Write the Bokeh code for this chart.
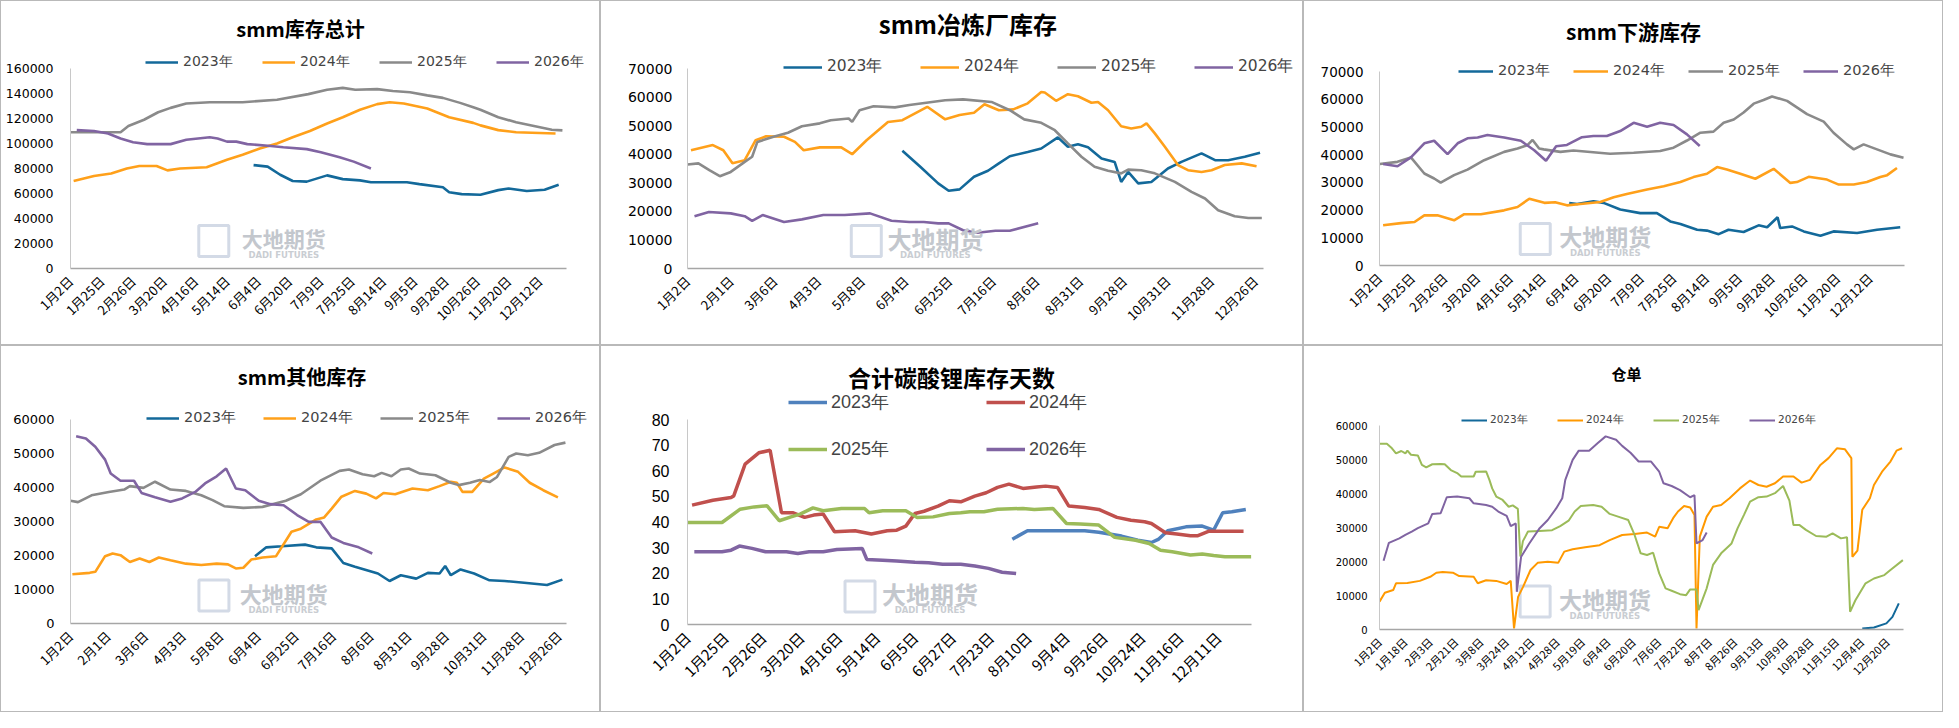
import math
from bokeh.plotting import figure
from bokeh.layouts import row, column
from bokeh.models import Range1d, FixedTicker, Legend, LegendItem, Label, NumeralTickFormatter
from bokeh.embed import file_html
from bokeh.resources import INLINE

YEARS = ["2023年", "2024年", "2025年", "2026年"]

# ---- smm库存总计 ----
TOTAL_LABELS = ["1月2日", "1月25日", "2月26日", "3月20日", "4月16日", "5月14日", "6月4日", "6月20日",
                "7月9日", "7月25日", "8月14日", "9月5日", "9月28日", "10月26日", "11月20日", "12月12日"]
TOTAL_2023_X = [5.85, 6.3, 6.7, 7.1, 7.55, 8.2, 8.7, 9.25, 9.6, 10.75, 11.15, 11.9, 12.1, 12.5, 13.1, 13.67, 14.0, 14.58, 15.15, 15.6]
TOTAL_2023_Y = [82700, 81500, 75000, 70000, 69500, 74500, 71500, 70500, 69000, 69000, 67500, 65000, 61000, 59500, 59000, 62700, 64000, 62000, 63000, 67000]
TOTAL_2024_X = [0.1, 0.75, 1.3, 1.8, 2.2, 2.75, 3.1, 3.5, 4.35, 5.0, 5.5, 6.05, 6.6, 7.1, 7.65, 8.2, 8.7, 9.25, 9.8, 10.2, 10.65, 11.4, 11.7, 12.1, 12.87, 13.1, 13.67, 14.24, 15.5]
TOTAL_2024_Y = [70000, 74000, 76000, 80000, 82000, 82000, 78500, 80000, 81000, 87000, 91000, 96000, 100000, 105000, 110000, 116000, 121000, 127000, 131500, 133000, 132000, 128000, 125000, 121000, 116500, 114500, 110700, 109000, 108000]
TOTAL_2025_X = [0, 1.6, 1.75, 1.85, 2.35, 2.8, 3.2, 3.7, 4.45, 5.5, 6.6, 7.6, 8.2, 8.7, 9.1, 9.8, 10.3, 10.85, 11.4, 11.9, 12.45, 12.87, 13.1, 13.67, 14.24, 14.81, 15.38, 15.72]
TOTAL_2025_Y = [109000, 109000, 112000, 114000, 119000, 125000, 128500, 132000, 133000, 133000, 135000, 139500, 143000, 144500, 143000, 143500, 142000, 141000, 138500, 136500, 132500, 129000, 127000, 121000, 117000, 114000, 111000, 110500]
TOTAL_2026_X = [0.2, 0.75, 1.2, 1.6, 2.0, 2.45, 3.2, 3.7, 4.45, 4.7, 5.0, 5.3, 5.65, 6.4, 6.8, 7.55, 8.0, 8.6, 9.05, 9.6]
TOTAL_2026_Y = [110700, 110000, 108000, 104000, 101000, 99500, 99500, 103000, 105000, 104000, 101500, 101500, 99500, 98000, 97000, 95500, 93000, 89000, 85500, 80000]

# ---- smm冶炼厂库存 ----
SMELTER_LABELS = ["1月2日", "2月1日", "3月6日", "4月3日", "5月8日", "6月4日", "6月25日", "7月16日",
                  "8月6日", "8月31日", "9月28日", "10月31日", "11月28日", "12月26日"]
SMELTER_2023_X = [4.92, 5.33, 5.74, 5.98, 6.23, 6.56, 6.88, 7.13, 7.38, 7.79, 8.1, 8.48, 8.71, 8.94, 9.17, 9.48, 9.63, 9.78, 9.93, 10.09, 10.32, 10.62, 11.0, 11.31, 11.77, 12.08, 12.38, 12.76, 13.11]
SMELTER_2023_Y = [41200, 35600, 29800, 27200, 27700, 32100, 34200, 36800, 39300, 40800, 42000, 45900, 42600, 43500, 42400, 38500, 37900, 37300, 30300, 33800, 29800, 30300, 35000, 37300, 40300, 37900, 37900, 39100, 40500]
SMELTER_2024_X = [0.08, 0.58, 0.82, 1.03, 1.31, 1.56, 1.8, 2.21, 2.46, 2.66, 3.03, 3.52, 3.77, 4.1, 4.59, 4.92, 5.49, 5.9, 6.23, 6.56, 6.8, 7.13, 7.46, 7.79, 8.1, 8.18, 8.44, 8.71, 8.94, 9.25, 9.4, 9.63, 9.93, 10.16, 10.39, 10.51, 10.7, 10.93, 11.23, 11.46, 11.77, 12.0, 12.3, 12.69, 13.03]
SMELTER_2024_Y = [41400, 43200, 41400, 36800, 37900, 44900, 46300, 46100, 44300, 41400, 42400, 42400, 40000, 44900, 51300, 51900, 56600, 52200, 53700, 54500, 57500, 55400, 55700, 57800, 61800, 61600, 58700, 61000, 60300, 58000, 58300, 55400, 49800, 49000, 49600, 50800, 47300, 42600, 36200, 34400, 33800, 34400, 36200, 36800, 35800]
SMELTER_2025_X = [0.0, 0.25, 0.5, 0.74, 0.99, 1.31, 1.48, 1.6, 1.97, 2.3, 2.62, 3.03, 3.28, 3.69, 3.77, 3.94, 4.26, 4.75, 5.08, 5.9, 6.31, 6.96, 7.38, 7.71, 8.1, 8.41, 8.71, 9.02, 9.32, 9.63, 9.93, 10.09, 10.39, 10.7, 11.16, 11.54, 11.85, 12.15, 12.53, 12.84, 13.15]
SMELTER_2025_Y = [36400, 36800, 34400, 32300, 33800, 37300, 39100, 44300, 46100, 47500, 49800, 50800, 51900, 52500, 51300, 55400, 56800, 56400, 57200, 58900, 59200, 58300, 55400, 52200, 51000, 48400, 43800, 39100, 35600, 34200, 33300, 34600, 34400, 33300, 30300, 26800, 24500, 20400, 18300, 17700, 17700]
SMELTER_2026_X = [0.16, 0.49, 0.99, 1.31, 1.48, 1.72, 2.21, 2.62, 3.11, 3.6, 4.18, 4.67, 5.08, 5.41, 5.74, 5.98, 6.31, 6.64, 7.05, 7.38, 8.03]
SMELTER_2026_Y = [18300, 19800, 19300, 18300, 16700, 18700, 16300, 17200, 18700, 18700, 19300, 16700, 16300, 16300, 15800, 15800, 13400, 12500, 13200, 13200, 15800]

# ---- smm下游库存 ----
DOWN_LABELS = TOTAL_LABELS
DOWN_2023_X = [5.8, 6.04, 6.54, 6.85, 7.36, 7.97, 8.48, 8.89, 9.2, 9.71, 10.01, 10.37, 10.67, 11.13, 11.59, 11.85, 12.17, 12.25, 12.61, 12.97, 13.48, 13.88, 14.6, 15.21, 15.92]
DOWN_2023_Y = [22500, 22200, 23200, 22600, 20200, 18900, 18900, 15900, 15000, 12900, 12600, 11300, 12900, 12100, 14500, 13800, 17400, 13500, 14100, 12300, 10700, 12300, 11700, 12900, 13800]
DOWN_2024_X = [0.11, 0.66, 1.07, 1.37, 1.77, 2.28, 2.59, 3.1, 3.81, 4.22, 4.58, 5.04, 5.37, 5.73, 6.14, 6.75, 7.16, 7.56, 8.18, 8.69, 9.2, 9.6, 10.01, 10.32, 10.62, 11.03, 11.49, 12.05, 12.56, 12.76, 13.12, 13.68, 14.04, 14.5, 14.9, 15.31, 15.52, 15.82]
DOWN_2024_Y = [14500, 15300, 15700, 18100, 18100, 16300, 18500, 18500, 19900, 21100, 24100, 22600, 22800, 21700, 22200, 22900, 24600, 25800, 27400, 28600, 30100, 31900, 33100, 35500, 34600, 33100, 31300, 34900, 29800, 30100, 32000, 31000, 29200, 29200, 30100, 31900, 32600, 35200]
DOWN_2025_X = [0.01, 0.55, 0.96, 1.37, 1.67, 1.87, 2.28, 2.69, 3.2, 3.81, 4.22, 4.53, 4.68, 4.88, 5.02, 5.53, 5.93, 7.05, 7.77, 8.58, 8.99, 9.4, 9.81, 10.21, 10.52, 10.83, 11.13, 11.44, 11.74, 12.0, 12.46, 13.07, 13.58, 13.88, 14.29, 14.5, 14.8, 15.21, 15.62, 16.02]
DOWN_2025_Y = [36600, 37400, 39000, 33200, 31400, 29900, 32600, 34600, 38000, 41000, 42200, 43500, 45300, 42200, 41900, 41000, 41500, 40300, 40700, 41300, 42500, 45100, 47900, 48300, 51500, 52700, 55200, 58400, 59700, 61000, 59400, 54600, 51900, 47900, 43700, 41900, 43700, 41900, 40100, 38900]
DOWN_2026_X = [0.11, 0.55, 0.96, 1.37, 1.67, 2.08, 2.39, 2.69, 3.0, 3.3, 3.81, 4.32, 4.73, 5.09, 5.4, 5.73, 6.19, 6.54, 6.95, 7.36, 7.77, 8.18, 8.58, 8.99, 9.4, 9.79]
DOWN_2026_Y = [36600, 35800, 39000, 44100, 45000, 40200, 44100, 45900, 46200, 47100, 46200, 45000, 41600, 37800, 43000, 43500, 46300, 46700, 46700, 48500, 51500, 50100, 51500, 50700, 47300, 43100]

# ---- smm其他库存 ----
OTHER_LABELS = SMELTER_LABELS
OTHER_2023_X = [4.91, 5.21, 5.62, 6.24, 6.54, 6.95, 7.26, 7.57, 8.18, 8.49, 8.79, 9.2, 9.51, 9.82, 9.97, 10.12, 10.38, 10.74, 11.15, 11.55, 12.07, 12.68, 13.09]
OTHER_2023_Y = [19800, 22400, 22700, 23200, 22400, 22100, 17800, 16700, 14700, 12500, 14200, 13200, 14900, 14700, 16900, 14200, 15900, 14700, 12700, 12500, 12000, 11300, 12900]
OTHER_2024_X = [0.05, 0.51, 0.66, 0.92, 1.12, 1.33, 1.58, 1.84, 2.1, 2.35, 2.66, 3.07, 3.48, 3.89, 4.19, 4.4, 4.6, 4.81, 5.11, 5.47, 5.88, 6.13, 6.54, 6.75, 6.95, 7.21, 7.57, 7.87, 8.13, 8.33, 8.64, 9.1, 9.51, 9.82, 10.12, 10.28, 10.43, 10.69, 11.0, 11.25, 11.55, 11.91, 12.22, 12.58, 12.97]
OTHER_2024_Y = [14500, 14900, 15200, 19800, 20600, 20100, 18100, 19100, 18100, 19400, 18600, 17600, 17200, 17600, 17400, 16200, 16400, 18800, 19400, 19800, 27000, 27900, 30600, 31200, 33800, 37300, 39000, 38200, 36800, 38400, 38000, 39700, 39200, 40400, 41700, 41400, 38700, 38700, 42600, 44100, 45900, 44600, 41400, 39200, 37100]
OTHER_2025_X = [0, 0.2, 0.56, 1.02, 1.43, 1.58, 1.94, 2.25, 2.66, 3.07, 3.48, 3.78, 4.09, 4.6, 5.11, 5.73, 6.13, 6.65, 7.16, 7.41, 7.77, 8.08, 8.28, 8.54, 8.79, 9.0, 9.3, 9.71, 10.12, 10.33, 10.63, 10.89, 11.15, 11.35, 11.66, 11.86, 12.17, 12.47, 12.88, 13.17]
OTHER_2025_Y = [36100, 35700, 37700, 38700, 39400, 40400, 39900, 41700, 39400, 39000, 37700, 36300, 34500, 34000, 34300, 36100, 38000, 42000, 44900, 45300, 43900, 43300, 44300, 43300, 45300, 45600, 44100, 43600, 41400, 40700, 41400, 42200, 41600, 43100, 49000, 50000, 49500, 50200, 52500, 53200]
OTHER_2026_X = [0.15, 0.41, 0.66, 0.92, 1.07, 1.33, 1.69, 1.89, 2.25, 2.66, 2.97, 3.32, 3.58, 3.89, 4.14, 4.4, 4.65, 5.01, 5.32, 5.67, 6.03, 6.34, 6.65, 6.95, 7.26, 7.67, 8.03]
OTHER_2026_Y = [55100, 54400, 52000, 48200, 44100, 42000, 42000, 38400, 37100, 35800, 36800, 38700, 41200, 43300, 45600, 39700, 39200, 36100, 35100, 34800, 31900, 29900, 29900, 25300, 23700, 22400, 20600]

# ---- 合计碳酸锂库存天数 ----
DAYS_LABELS = ["1月2日", "1月25日", "2月26日", "3月20日", "4月16日", "5月14日", "6月5日", "6月27日",
               "7月23日", "8月10日", "9月4日", "9月26日", "10月24日", "11月16日", "12月11日"]
DAYS_2023_X = [8.57, 8.97, 9.64, 10.48, 10.85, 11.45, 11.88, 12.24, 12.42, 12.67, 13.15, 13.58, 13.88, 14.12, 14.36, 14.73]
DAYS_2023_Y = [33.3, 36.6, 36.6, 36.6, 36.0, 34.5, 32.9, 32.0, 33.2, 36.6, 38.1, 38.4, 36.8, 43.6, 44.0, 44.9]
DAYS_2024_X = [0.12, 0.67, 1.15, 1.22, 1.52, 1.88, 2.18, 2.48, 2.79, 3.09, 3.33, 3.58, 3.88, 4.42, 4.85, 5.27, 5.52, 5.76, 6.0, 6.24, 6.61, 6.91, 7.21, 7.58, 7.88, 8.18, 8.48, 8.85, 9.21, 9.45, 9.76, 10.06, 10.48, 10.85, 11.33, 11.7, 12.06, 12.24, 12.61, 12.91, 13.27, 13.45, 13.76, 14.67]
DAYS_2024_Y = [46.6, 48.5, 49.6, 50.2, 62.6, 67.0, 68.0, 43.6, 43.6, 41.8, 42.7, 43.1, 36.2, 36.6, 35.3, 36.6, 36.8, 38.4, 43.3, 44.2, 46.2, 48.3, 47.9, 50.1, 51.4, 53.5, 54.8, 53.1, 53.7, 54.0, 53.5, 46.2, 45.7, 44.9, 41.8, 40.7, 40.1, 39.4, 35.8, 35.3, 34.6, 34.6, 36.4, 36.4]
DAYS_2025_X = [0, 0.91, 1.39, 1.76, 2.1, 2.42, 2.73, 2.97, 3.31, 3.58, 4.06, 4.67, 4.79, 5.15, 5.76, 6.06, 6.48, 6.91, 7.21, 7.45, 7.82, 8.18, 8.85, 9.15, 9.64, 10.0, 10.36, 10.85, 11.27, 11.82, 12.18, 12.48, 12.79, 13.27, 13.58, 13.88, 14.18, 14.87]
DAYS_2025_Y = [39.8, 39.8, 45.0, 45.9, 46.3, 40.5, 42.0, 43.1, 45.5, 44.4, 45.3, 45.3, 43.6, 44.4, 44.4, 41.8, 42.0, 43.3, 43.6, 44.0, 44.0, 45.0, 45.3, 44.9, 45.3, 39.4, 39.2, 38.8, 34.0, 32.9, 31.6, 29.0, 28.4, 27.1, 27.5, 26.9, 26.4, 26.4]
DAYS_2026_X = [0.18, 0.91, 1.15, 1.37, 1.7, 2.06, 2.61, 2.91, 3.21, 3.58, 3.94, 4.61, 4.73, 5.15, 5.52, 6.0, 6.36, 6.73, 7.21, 7.58, 7.94, 8.3, 8.67]
DAYS_2026_Y = [28.4, 28.4, 29.0, 30.6, 29.7, 28.4, 28.4, 27.7, 28.4, 28.4, 29.3, 29.7, 25.4, 25.1, 24.8, 24.3, 24.1, 23.5, 23.5, 22.8, 21.9, 20.4, 19.9]

# ---- 仓单 ----
WR_LABELS = ["1月2日", "1月18日", "2月3日", "2月21日", "3月8日", "3月24日", "4月12日", "4月28日", "5月19日",
             "6月4日", "6月20日", "7月6日", "7月22日", "8月7日", "8月26日", "9月13日", "10月9日", "10月28日",
             "11月15日", "12月4日", "12月20日"]
WR_2023_X = [19.02, 19.48, 19.97, 20.21, 20.46]
WR_2023_Y = [300, 600, 1800, 3700, 7700]
WR_2024_X = [0, 0.21, 0.54, 0.65, 1.1, 1.59, 2.0, 2.24, 2.49, 2.89, 3.14, 3.71, 3.87, 4.2, 4.6, 5.01, 5.17, 5.3, 5.46, 5.66, 5.95, 6.23, 6.63, 7.04, 7.28, 7.61, 8.1, 8.67, 9.07, 9.56, 10.05, 10.54, 10.86, 11.02, 11.35, 11.59, 11.76, 12.0, 12.24, 12.41, 12.49, 12.62, 12.89, 13.14, 13.46, 13.79, 14.2, 14.6, 14.93, 15.25, 15.58, 15.9, 16.31, 16.63, 16.96, 17.37, 17.69, 18.02, 18.34, 18.59, 18.63, 18.83, 19.02, 19.32, 19.48, 19.8, 20.13, 20.37, 20.59]
WR_2024_Y = [8200, 10800, 11600, 13600, 13700, 14300, 15500, 16700, 16900, 16700, 15700, 15500, 13600, 14500, 14300, 13400, 14300, 300, 9600, 12600, 17500, 19600, 19900, 19600, 22900, 23600, 24200, 24800, 26300, 27800, 28100, 28500, 27300, 30200, 29800, 33000, 34700, 36300, 35900, 33700, 300, 27300, 33200, 36100, 36600, 38600, 41500, 43800, 42500, 42000, 43000, 45000, 45000, 43200, 44000, 48400, 50400, 53300, 53000, 50400, 21400, 23200, 35200, 38600, 42500, 46400, 49400, 52600, 53300]
WR_2025_X = [0, 0.29, 0.49, 0.65, 0.86, 1.02, 1.1, 1.24, 1.51, 1.67, 1.84, 2.08, 2.41, 2.57, 2.81, 3.06, 3.22, 3.71, 3.79, 4.2, 4.33, 4.44, 4.6, 4.85, 5.09, 5.25, 5.45, 5.55, 5.65, 5.85, 6.3, 6.8, 7.12, 7.45, 7.69, 7.93, 8.42, 8.75, 9.07, 9.4, 9.8, 10.05, 10.29, 10.54, 10.78, 11.02, 11.27, 11.51, 11.84, 12.08, 12.24, 12.49, 12.57, 12.89, 13.14, 13.46, 13.63, 13.87, 14.11, 14.36, 14.6, 14.93, 15.25, 15.58, 15.9, 16.15, 16.31, 16.55, 16.8, 17.2, 17.61, 17.85, 18.18, 18.42, 18.54, 18.75, 19.15, 19.48, 19.89, 20.13, 20.62]
WR_2025_Y = [54600, 54600, 53300, 51800, 52500, 51800, 52600, 51400, 51200, 48400, 47700, 48600, 48700, 48600, 46900, 46000, 45000, 45000, 46400, 46500, 44000, 41500, 39100, 38100, 36100, 36500, 35500, 21500, 26000, 28800, 29000, 29200, 30400, 32000, 34700, 36300, 36600, 36100, 34000, 33200, 32200, 27800, 22400, 21900, 22600, 16500, 12100, 11400, 10400, 10100, 11800, 11800, 5700, 12100, 19000, 22400, 23600, 25300, 29800, 33700, 37600, 38900, 39100, 40100, 42200, 37900, 30700, 30700, 29300, 27500, 27300, 28300, 26800, 27100, 5200, 8600, 13600, 15000, 16000, 17500, 20400]
WR_2026_X = [0.16, 0.37, 0.78, 1.02, 1.27, 1.51, 1.92, 2.08, 2.41, 2.65, 3.06, 3.54, 3.71, 4.2, 4.44, 4.68, 5.01, 5.17, 5.37, 5.41, 5.58, 5.9, 6.31, 6.63, 6.96, 7.2, 7.32, 7.61, 7.85, 8.26, 8.59, 8.91, 9.32, 9.56, 9.89, 10.21, 10.7, 11.02, 11.19, 11.51, 11.84, 12.24, 12.41, 12.49, 12.73, 12.89]
WR_2026_Y = [20200, 25500, 26800, 27800, 28800, 29800, 31200, 34000, 34200, 38900, 39100, 38600, 37100, 36600, 36100, 34700, 33400, 30400, 31200, 11100, 21400, 25300, 29800, 32200, 35600, 38600, 44000, 49900, 52600, 52600, 54800, 56800, 55800, 54000, 52000, 49400, 49400, 46400, 43000, 42200, 41000, 38900, 39500, 25300, 26300, 28500]

SMM_COLORS = ["#13699a", "#ffa01a", "#8a8a8a", "#8064a2"]
DAYS_COLORS = ["#4f81bd", "#c0504d", "#9bbb59", "#8064a2"]
WR_COLORS = ["#13699a", "#ff9900", "#9bbb59", "#8064a2"]

CJK = "Noto Sans CJK SC"


def make_panel(title, labels, series, x_end, y_end, y_step, colors, st):
    # st holds page-pixel geometry: figure origin/size, plot box (L, R, T0, B),
    # title centre and legend rows (first glyph x, row centre y)
    ox, oy, w, h = st["box"]
    L, R, T0, B = st["plot"]
    F = oy + 3                      # frame reaches almost to the panel edges,
    FR = ox + w - 3                 # so title and legend sit inside it
    y_top = y_end * (B - F) / (B - T0)
    x_right = x_end * (FR - L) / (R - L)
    fw = R - L

    p = figure(width=w, height=h, output_backend="svg", toolbar_location=None, title=None,
               x_range=Range1d(0, x_right), y_range=Range1d(0, y_top),
               min_border_left=L - ox, min_border_right=ox + w - FR,
               min_border_top=F - oy, min_border_bottom=oy + h - B)
    p.styles = {"border": "1.5px solid #b9b9b9", "box-sizing": "border-box"}
    p.outline_line_color = None
    p.xgrid.visible = False
    p.ygrid.visible = False

    p.xaxis.ticker = FixedTicker(ticks=list(range(len(labels))))
    p.xaxis.bounds = (0, x_end)
    p.xaxis.major_label_overrides = {i: lab for i, lab in enumerate(labels)}
    p.xaxis.major_label_orientation = math.pi / 4
    p.xaxis.major_label_text_font = CJK
    p.xaxis.major_label_text_font_size = st["xfs"]
    p.xaxis.major_label_standoff = 10
    p.xaxis.axis_line_color = "#a6a6a6"
    p.xaxis.axis_line_width = 1.5

    p.yaxis.ticker = FixedTicker(ticks=list(range(0, y_end + 1, y_step)))
    p.yaxis.bounds = (0, y_end)
    p.yaxis.formatter = NumeralTickFormatter(format="0")
    p.yaxis.major_label_text_font = st["yf"]
    p.yaxis.major_label_text_font_size = st["yfs"]
    p.yaxis.major_label_standoff = st["yso"]
    p.yaxis.axis_line_color = "#c8c8c8"

    for ax in (p.xaxis, p.yaxis):
        ax.major_tick_line_color = None
        ax.minor_tick_line_color = None
        ax.major_tick_out = 0
        ax.major_tick_in = 0
        ax.major_label_text_color = "#000000"

    def to_x(px):
        return (px - L) / fw * x_end

    def to_y(py):
        return (B - py) / (B - T0) * y_end

    # title
    tx, ty = st["title_at"]
    p.add_layout(Label(x=to_x(tx), y=to_y(ty + 5), text=title, text_font=CJK, text_font_style="bold",
                       text_font_size=st["tfs"], text_color="#000000", text_align="center",
                       text_baseline="middle"))

    # watermark
    cx, cy = 0.43 * x_end, 0.137 * y_end
    p.rect(x=cx - 70.0 / fw * x_end, y=cy, width=30, height=31, width_units="screen",
           height_units="screen", fill_color=None, line_color="#d3dae6", line_width=3)
    p.add_layout(Label(x=cx, y=cy, y_offset=3, text="大地期货", text_font=CJK, text_font_style="bold",
                       text_font_size=st["wfs"], text_color="#c3c7cd", text_align="center",
                       text_baseline="middle"))
    p.add_layout(Label(x=cx, y=cy, y_offset=-14, text="DADI FUTURES", text_font="DejaVu Sans",
                       text_font_style="bold", text_font_size="8.5px", text_color="#c9cdd2",
                       text_align="center", text_baseline="middle"))

    rends = []
    for (xs, ys), c in zip(series, colors):
        rends.append(p.line(xs, ys, line_color=c, line_width=st["lw"]))

    for idx, (lx, ly) in st["legends"]:
        lg = Legend(items=[LegendItem(label=YEARS[i], renderers=[rends[i]]) for i in idx],
                    orientation="horizontal", location=(lx - L, B - ly - st["gh"] // 2 - 9),
                    glyph_width=st["gw"], glyph_height=st["gh"], label_standoff=st["ls"],
                    label_width=st["lbw"], label_height=st["gh"], spacing=st["sp"],
                    padding=0, margin=0, border_line_color=None, background_fill_alpha=0,
                    label_text_font=st["lf"], label_text_font_size=st["lfs"],
                    label_text_baseline="middle")
        p.add_layout(lg)
    return p


base = dict(yf="DejaVu Sans", xfs="13px", lf="DejaVu Sans", lw=2.6, gw=33, gh=16, ls=5, lbw=55, sp=24)

p1 = make_panel("smm库存总计", TOTAL_LABELS,
                [(TOTAL_2023_X, TOTAL_2023_Y), (TOTAL_2024_X, TOTAL_2024_Y),
                 (TOTAL_2025_X, TOTAL_2025_Y), (TOTAL_2026_X, TOTAL_2026_Y)],
                15.85, 160000, 20000, SMM_COLORS,
                dict(base, box=(8, 8, 600, 345), plot=(77, 573, 75, 275), title_at=(307, 30),
                     tfs="20px", yfs="12.5px", yso=17, wfs="21px", lfs="14px",
                     legends=[([0, 1, 2, 3], (152, 61))]))

p2 = make_panel("smm冶炼厂库存", SMELTER_LABELS,
                [(SMELTER_2023_X, SMELTER_2023_Y), (SMELTER_2024_X, SMELTER_2024_Y),
                 (SMELTER_2025_X, SMELTER_2025_Y), (SMELTER_2026_X, SMELTER_2026_Y)],
                13.2, 70000, 10000, SMM_COLORS,
                dict(base, box=(608, 8, 703, 345), plot=(686, 1270, 75, 275), title_at=(970, 25),
                     tfs="24px", yfs="14px", yso=15, wfs="24px", lfs="15.5px", gw=39, lbw=60, sp=33,
                     legends=[([0, 1, 2, 3], (782, 67))]))

p3 = make_panel("smm下游库存", DOWN_LABELS,
                [(DOWN_2023_X, DOWN_2023_Y), (DOWN_2024_X, DOWN_2024_Y),
                 (DOWN_2025_X, DOWN_2025_Y), (DOWN_2026_X, DOWN_2026_Y)],
                16.05, 70000, 10000, SMM_COLORS,
                dict(base, box=(1311, 8, 640, 345), plot=(1386, 1911, 78, 272), title_at=(1640, 32),
                     tfs="21px", yfs="13.5px", yso=16, wfs="23px", lfs="14.5px", gw=35, lbw=55, sp=20,
                     legends=[([0, 1, 2, 3], (1465, 70))]))

p4 = make_panel("smm其他库存", OTHER_LABELS,
                [(OTHER_2023_X, OTHER_2023_Y), (OTHER_2024_X, OTHER_2024_Y),
                 (OTHER_2025_X, OTHER_2025_Y), (OTHER_2026_X, OTHER_2026_Y)],
                13.2, 60000, 10000, SMM_COLORS,
                dict(base, box=(8, 353, 600, 367), plot=(76, 573, 426, 630), title_at=(308, 378),
                     tfs="20px", yfs="13px", yso=16, wfs="22px", lfs="14.5px",
                     legends=[([0, 1, 2, 3], (152, 417))]))

p5 = make_panel("合计碳酸锂库存天数", DAYS_LABELS,
                [(DAYS_2023_X, DAYS_2023_Y), (DAYS_2024_X, DAYS_2024_Y),
                 (DAYS_2025_X, DAYS_2025_Y), (DAYS_2026_X, DAYS_2026_Y)],
                14.88, 80, 10, DAYS_COLORS,
                dict(base, box=(608, 353, 703, 367), plot=(694, 1258, 426, 631), title_at=(958, 378),
                     tfs="23px", yf="Liberation Sans", yfs="16px", yso=18, xfs="15px", wfs="24px",
                     lf="Liberation Sans", lfs="18px", lw=3.5, gw=39, gh=18, ls=4, lbw=65, sp=90,
                     legends=[([0, 1], (795, 403)), ([2, 3], (795, 450))]))

p6 = make_panel("仓单", WR_LABELS,
                [(WR_2023_X, WR_2023_Y), (WR_2024_X, WR_2024_Y),
                 (WR_2025_X, WR_2025_Y), (WR_2026_X, WR_2026_Y)],
                20.65, 60000, 10000, WR_COLORS,
                dict(base, box=(1311, 353, 640, 367), plot=(1384, 1910, 432, 636), title_at=(1632, 375),
                     tfs="15px", yfs="10px", yso=12, xfs="11px", wfs="23px",
                     lfs="10.5px", lw=2.0, gw=26, ls=3, lbw=42, sp=25,
                     legends=[([0, 1, 2, 3], (1466, 418))]))

layout = row(column(p1, p4), column(p2, p5), column(p3, p6))

open("out.html", "w").write(file_html(layout, INLINE))
